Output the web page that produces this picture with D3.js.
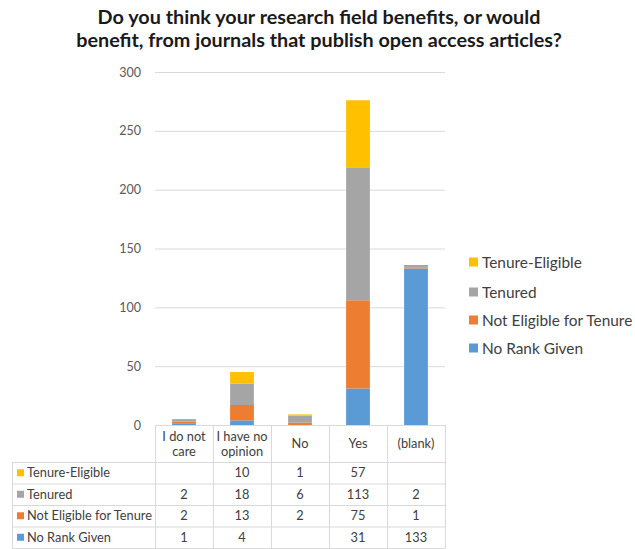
<!DOCTYPE html>
<html><head><meta charset="utf-8">
<script src="https://cdn.jsdelivr.net/npm/d3@7"></script>
<style>body{margin:0;background:#fff}svg{display:block}</style>
</head><body>
<script>
const categories = ["I do not care", "I have no opinion", "No", "Yes", "(blank)"];
const categoryLines = [["I do not","care"],["I have no","opinion"],["No"],["Yes"],["(blank)"]];
const seriesNames = ["No Rank Given", "Not Eligible for Tenure", "Tenured", "Tenure-Eligible"];
const noRankGiven = [1, 4, null, 31, 133];
const notEligible = [2, 13, 2, 75, 1];
const tenured = [2, 18, 6, 113, 2];
const tenureEligible = [null, 10, 1, 57, null];
const colors = ["#5b9bd5", "#ed7d31", "#a5a5a5", "#ffc000"];
const yTicks = [0, 50, 100, 150, 200, 250, 300];
const titleLines = ["Do you think your research field benefits, or would", "benefit, from journals that publish open access articles?"];

const seriesVals = [noRankGiven, notEligible, tenured, tenureEligible];
const W = 635, H = 549;
const font = "Lato, 'Open Sans', sans-serif";
const svg = d3.select("body").append("svg").attr("width", W).attr("height", H);

const x = d3.scaleBand().domain(categories).range([155, 445]).paddingInner(0).paddingOuter(0);
const y = d3.scaleLinear().domain([0, 300]).range([425, 72]);
const barW = x.bandwidth() * 0.41;

// title
svg.append("g").selectAll("text").data(titleLines).join("text")
  .attr("x", 319).attr("y", (d, i) => 24 + i * 23)
  .attr("text-anchor", "middle").attr("font-family", font).attr("font-weight", "bold")
  .attr("font-size", 19.8).attr("fill", "#1a1a1a").text(d => d);

// grid
svg.append("g").selectAll("line").data(yTicks.filter(t => t > 0)).join("line")
  .attr("x1", 155).attr("x2", 445).attr("y1", d => y(d) + 0.5).attr("y2", d => y(d) + 0.5)
  .attr("stroke", "#d9d9d9").attr("stroke-width", 1);

// y axis labels
const yAxis = d3.axisLeft(y).tickValues(yTicks).tickSize(0).tickPadding(0);
const ya = svg.append("g").attr("transform", "translate(141,0)").call(yAxis);
ya.select(".domain").remove();
ya.selectAll("text").attr("font-family", font).attr("font-size", 12.5).attr("fill", "#595959");

// stacked data
const rows = categories.map((c, i) => {
  const o = {cat: c};
  seriesNames.forEach((s, k) => o[s] = seriesVals[k][i] || 0);
  return o;
});
const stack = d3.stack().keys(seriesNames)(rows);
svg.append("g").selectAll("g").data(stack).join("g")
  .attr("fill", (d, i) => colors[i])
  .selectAll("rect").data(d => d).join("rect")
  .attr("x", d => x(d.data.cat) + (x.bandwidth() - barW) / 2)
  .attr("width", barW)
  .attr("y", d => y(d[1]))
  .attr("height", d => y(d[0]) - y(d[1]));

// data table
const tableLeft = 12, headerTop = 425, headerBottom = 462;
const rowH = 21.5;
const tableRows = [3, 2, 1, 0]; // display order: Tenure-Eligible first
const g = svg.append("g");
const gridColor = "#d9d9d9";
const fs = 12.8;
g.append("line").attr("x1", 155).attr("x2", 445).attr("y1", headerTop + 0.5).attr("y2", headerTop + 0.5).attr("stroke", gridColor);
for (let r = 0; r <= tableRows.length; r++) {
  const yy = headerBottom + r * rowH;
  g.append("line").attr("x1", tableLeft).attr("x2", 445).attr("y1", yy + 0.5).attr("y2", yy + 0.5).attr("stroke", gridColor);
}
const tableBottom = headerBottom + tableRows.length * rowH;
g.append("line").attr("x1", tableLeft + 0.5).attr("x2", tableLeft + 0.5).attr("y1", headerBottom).attr("y2", tableBottom).attr("stroke", gridColor);
categories.forEach(c => {
  g.append("line").attr("x1", x(c) + 0.5).attr("x2", x(c) + 0.5).attr("y1", headerTop).attr("y2", tableBottom).attr("stroke", gridColor);
});
g.append("line").attr("x1", 445.5).attr("x2", 445.5).attr("y1", headerTop).attr("y2", tableBottom).attr("stroke", gridColor);

categories.forEach((c, i) => {
  const lines = categoryLines[i];
  const cx = x(c) + x.bandwidth() / 2;
  const mid = (headerTop + headerBottom) / 2;
  lines.forEach((ln, j) => {
    g.append("text").attr("x", cx).attr("y", mid + (j - (lines.length - 1) / 2) * 15 + 4.5)
      .attr("text-anchor", "middle").attr("font-family", font).attr("font-size", fs).attr("fill", "#404040").text(ln);
  });
});
tableRows.forEach((k, r) => {
  const cy = headerBottom + r * rowH + rowH / 2;
  g.append("rect").attr("x", 17).attr("y", cy - 3.5).attr("width", 7).attr("height", 7).attr("fill", colors[k]);
  g.append("text").attr("x", 27).attr("y", cy + 4.5).attr("font-family", font).attr("font-size", fs).attr("fill", "#404040").text(seriesNames[k]);
  categories.forEach((c, i) => {
    const v = seriesVals[k][i];
    if (v == null) return;
    g.append("text").attr("x", x(c) + x.bandwidth() / 2).attr("y", cy + 4.5).attr("text-anchor", "middle")
      .attr("font-family", font).attr("font-size", fs).attr("fill", "#404040").text(v);
  });
});

// legend
const legY = [262, 292, 320, 348];
const leg = svg.append("g");
tableRows.forEach((k, r) => {
  leg.append("rect").attr("x", 469).attr("y", legY[r] - 4.5).attr("width", 9).attr("height", 9).attr("fill", colors[k]);
  leg.append("text").attr("x", 482).attr("y", legY[r] + 5.5).attr("font-family", font).attr("font-size", 15.4).attr("fill", "#404040").text(seriesNames[k]);
});
</script>
</body></html>
